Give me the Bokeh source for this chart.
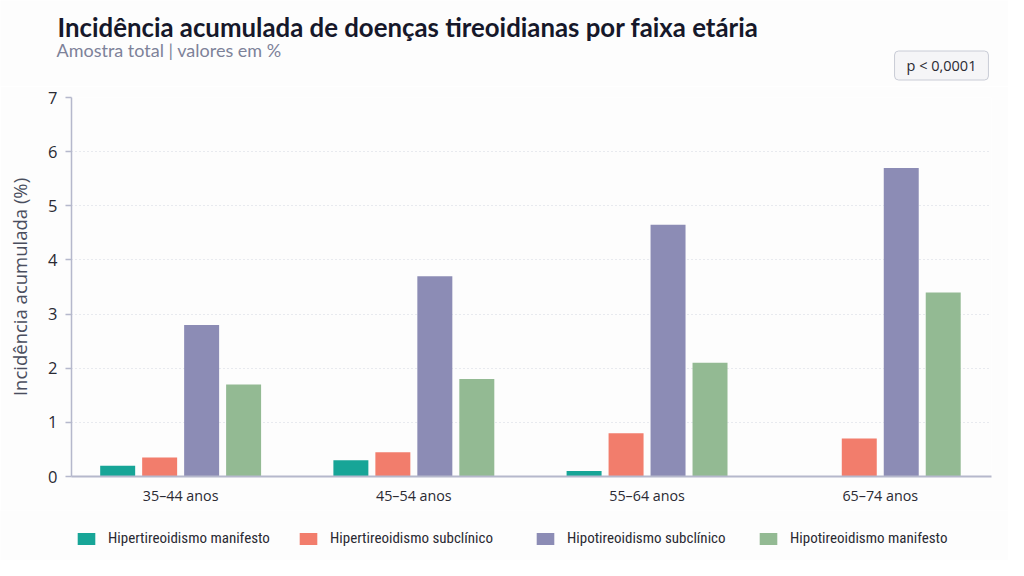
from bokeh.plotting import figure
from bokeh.layouts import column
from bokeh.models import ColumnDataSource, Label, Legend, LegendItem, FixedTicker, Range1d
from bokeh.embed import file_html
from bokeh.resources import INLINE

groups = ["35–44 anos", "45–54 anos", "55–64 anos", "65–74 anos"]
series = ["Hipertireoidismo manifesto", "Hipertireoidismo subclínico",
          "Hipotireoidismo subclínico", "Hipotireoidismo manifesto"]
hiper_manifesto = [0.2, 0.3, 0.1, float("nan")]
hiper_subclinico = [0.35, 0.45, 0.8, 0.7]
hipo_subclinico = [2.8, 3.7, 4.65, 5.7]
hipo_manifesto = [1.7, 1.8, 2.1, 3.4]
y_ticks = [0, 1, 2, 3, 4, 5, 6, 7]

title_text = "Incidência acumulada de doenças tireoidianas por faixa etária"
subtitle_text = "Amostra total | valores em %"
p_text = "p < 0,0001"
y_label = "Incidência acumulada (%)"

colors = ["#17a597", "#f27d6c", "#8c8cb5", "#93ba93"]
offsets = [-0.27, -0.09, 0.09, 0.27]
BG = "#fdfdfd"
AXIS = "#b5b8cc"
W = 1008

# ---------- header ----------
hdr = figure(width=W, height=86, output_backend="svg", toolbar_location=None,
             x_range=Range1d(0, 1), y_range=Range1d(0, 1), min_border=0,
             background_fill_color=BG, border_fill_color=BG)
hdr.frame_align = False
hdr.axis.visible = False
hdr.grid.visible = False
hdr.outline_line_color = None
hdr.add_layout(Label(x=57, y=60, x_units="screen", y_units="screen", text=title_text,
                     text_font="Lato", text_font_style="bold", text_font_size="25.8px",
                     text_color="#16182a", text_baseline="alphabetic"))
hdr.add_layout(Label(x=56, y=37, x_units="screen", y_units="screen", text=subtitle_text,
                     text_font="Lato", text_font_size="18px", text_color="#7d8299",
                     text_baseline="alphabetic"))
hdr.add_layout(Label(x=941, y=21, x_units="screen", y_units="screen", text=p_text,
                     text_font="Open Sans", text_font_size="14.5px", text_color="#2a2a33",
                     text_align="center", text_baseline="middle",
                     background_fill_color="#f5f5f7", border_line_color="#c9ccd6",
                     border_radius=4, padding=(12, 5)))

# ---------- main chart ----------
p = figure(width=W, height=424, output_backend="svg", toolbar_location=None,
           x_range=Range1d(-0.468, 3.477), y_range=Range1d(0, 7),
           min_border_left=71, min_border_right=17, min_border_top=11, min_border_bottom=34,
           background_fill_color=BG, border_fill_color=BG)
p.frame_align = False
p.outline_line_color = None

values = [hiper_manifesto, hiper_subclinico, hipo_subclinico, hipo_manifesto]
sources = []
for k, (name, vals) in enumerate(zip(series, values)):
    src = ColumnDataSource(dict(x=[i + offsets[k] for i in range(len(groups))], top=vals))
    sources.append(src)
    p.vbar(x="x", top="top", width=0.15, source=src, fill_color=colors[k], line_color=None)

p.xaxis.ticker = FixedTicker(ticks=list(range(len(groups))))
p.xaxis.major_label_overrides = {i: g for i, g in enumerate(groups)}
p.xaxis.major_tick_line_color = None
p.xaxis.major_tick_out = 0
p.xaxis.major_tick_in = 0
p.xaxis.minor_tick_line_color = None
p.xaxis.axis_line_color = AXIS
p.xaxis.axis_line_width = 2
p.xaxis.major_label_text_font = "Open Sans"
p.xaxis.major_label_text_font_size = "14.3px"
p.xaxis.major_label_text_color = "#2a2a33"
p.xaxis.major_label_standoff = 9

p.yaxis.ticker = FixedTicker(ticks=y_ticks)
p.yaxis.axis_line_color = AXIS
p.yaxis.axis_line_width = 1.5
p.yaxis.major_tick_line_color = AXIS
p.yaxis.major_tick_line_width = 1.5
p.yaxis.major_tick_out = 6
p.yaxis.major_tick_in = 0
p.yaxis.minor_tick_line_color = None
p.yaxis.major_label_text_font = "Open Sans"
p.yaxis.major_label_text_font_size = "16.5px"
p.yaxis.major_label_text_color = "#2a2a33"
p.yaxis.major_label_standoff = 8
p.yaxis.axis_label = y_label
p.yaxis.axis_label_text_font = "Open Sans"
p.yaxis.axis_label_text_font_style = "normal"
p.yaxis.axis_label_text_font_size = "18.5px"
p.yaxis.axis_label_text_color = "#4a4e5e"
p.yaxis.axis_label_standoff = 13

p.xgrid.grid_line_color = None
p.ygrid.grid_line_color = "#d3d6e0"
p.ygrid.grid_line_dash = "1 3"
p.ygrid.grid_line_width = 1

# ---------- footer legend ----------
ftr = figure(width=W, height=50, output_backend="svg", toolbar_location=None,
             x_range=Range1d(0, 1), y_range=Range1d(0, 1), min_border=0,
             background_fill_color=BG, border_fill_color=BG)
ftr.frame_align = False
ftr.axis.visible = False
ftr.grid.visible = False
ftr.outline_line_color = None
legend_x = [75, 297, 534, 757]
for k, name in enumerate(series):
    r = ftr.vbar(x="x", top="top", width=0.15, source=sources[k], fill_color=colors[k],
                 line_color=None, visible=False)
    lg = Legend(items=[LegendItem(label=name, renderers=[r])], location=(legend_x[k], 13),
                glyph_width=22, glyph_height=15, label_standoff=11, padding=0, margin=0,
                border_line_color=None, background_fill_alpha=0,
                label_text_font="Roboto Condensed", label_text_font_size="15px",
                label_text_color="#2a2a33")
    ftr.add_layout(lg, "center")

layout = column(hdr, p, ftr, spacing=0)
open("out.html", "w").write(file_html(layout, INLINE))
